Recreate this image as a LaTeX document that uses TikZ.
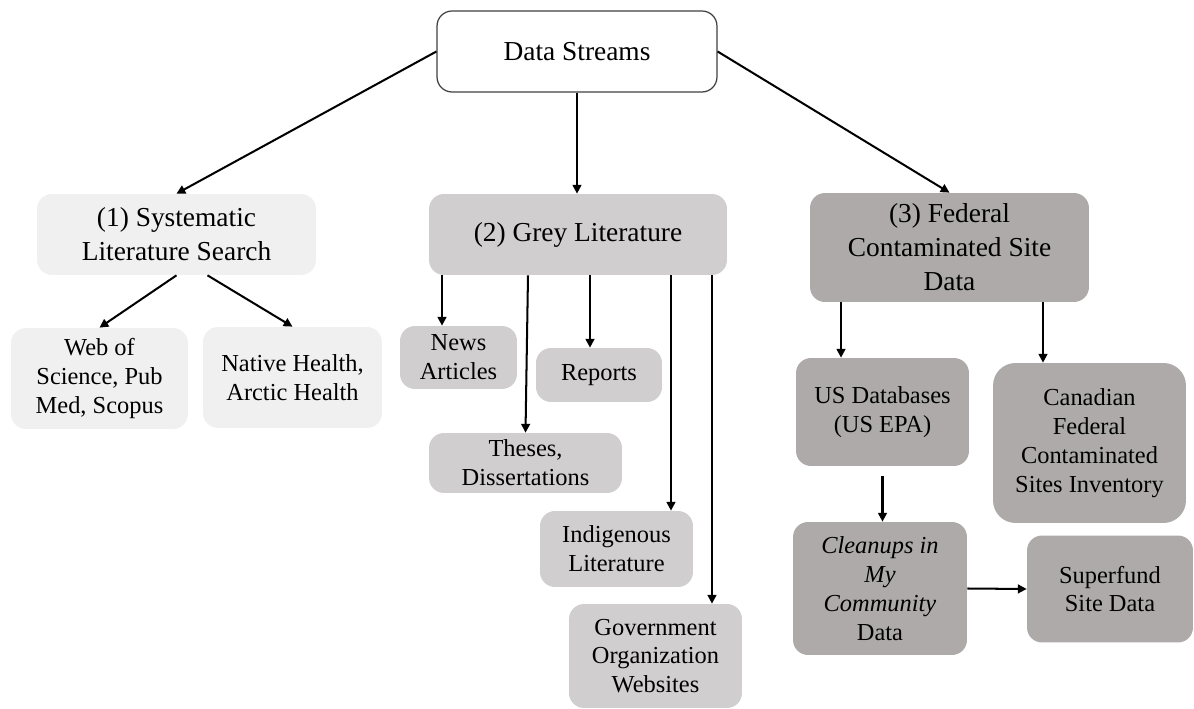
\documentclass[tikz,border=0pt]{standalone}
\usepackage{fontspec}
\setmainfont{Liberation Serif}
\newfontfamily\timesfont{Liberation Serif}
\usepackage{tikz}
\usetikzlibrary{arrows.meta, positioning}
\definecolor{boxlight}{HTML}{F0F0F0}
\definecolor{boxmid}{HTML}{D0CECE}
\definecolor{boxdark}{HTML}{AEAAAA}
\definecolor{rimgrey}{HTML}{404040}
\tikzset{
	stream/.style={rounded corners=0.3cm, inner sep=0pt, align=center},
	bigtext/.style={font=\timesfont\fontsize{15.6}{19.3}\selectfont},
	smalltext/.style={font=\timesfont\fontsize{13.9}{16.4}\selectfont},
	lightbox/.style={stream, fill=boxlight},
	midbox/.style={stream, fill=boxmid},
	darkbox/.style={stream, fill=boxdark},
	arr/.style={-{Triangle[length=5pt,width=5pt]}, line width=1.15pt},
}

\begin{document}
\begin{tikzpicture}[x=0.02cm, y=-0.02cm]
			\useasboundingbox (0,0) rectangle (1194,709);
			% top
			\node[stream, bigtext, draw=rimgrey, line width=0.7pt, fill=white, minimum width=5.6cm, minimum height=1.62cm] (ds) at (577,51.5) {Data Streams};
			% the three streams
			\node[lightbox, bigtext, minimum width=5.58cm, minimum height=1.62cm] (sys) at (176.5,234.5) {(1) Systematic\\Literature Search};
			\node[midbox, bigtext, minimum width=5.96cm, minimum height=1.62cm] (grey) at (578,234.5) {(2) Grey Literature};
			\node[darkbox, bigtext, minimum width=5.58cm, minimum height=2.18cm] (fed) at (949.5,247.5) {(3) Federal\\Contaminated Site\\Data};
			% (1)
			\node[lightbox, smalltext, minimum width=3.54cm, minimum height=2.02cm] (web) at (99.5,378.5) {Web of\\Science, Pub\\Med, Scopus};
			\node[lightbox, smalltext, minimum width=3.58cm, minimum height=2.02cm] (nat) at (292.5,377.5) {Native Health,\\Arctic Health};
			% (2)
			\node[midbox, smalltext, minimum width=2.34cm, minimum height=1.26cm] (news) at (458.5,357.5) {News\\Articles};
			\node[midbox, smalltext, minimum width=2.52cm, minimum height=1.08cm] (rep) at (599,375) {Reports};
			\node[midbox, smalltext, minimum width=3.86cm, minimum height=1.2cm] (the) at (525.5,463) {Theses,\\Dissertations};
			\node[midbox, smalltext, minimum width=3.06cm, minimum height=1.52cm] (ind) at (616.5,549) {Indigenous\\Literature};
			\node[midbox, smalltext, minimum width=3.46cm, minimum height=2.08cm] (gov) at (655.5,656) {Government\\Organization\\Websites};
			% (3)
			\node[darkbox, smalltext, minimum width=3.46cm, minimum height=2.16cm] (us) at (882.5,412) {US Databases\\(US EPA)};
			\node[darkbox, smalltext, rounded corners=0.45cm, minimum width=3.86cm, minimum height=3.2cm] (can) at (1089.5,443) {Canadian\\Federal\\Contaminated\\Sites Inventory};
			\node[darkbox, smalltext, minimum width=3.48cm, minimum height=2.66cm] (clean) at (880,588.5) {\textit{Cleanups in}\\\textit{My}\\\textit{Community}\\Data};
			\node[darkbox, smalltext, minimum width=3.32cm, minimum height=2.14cm] (sup) at (1110,589) {Superfund\\Site Data};
			% connectors
			\draw[arr] (ds.west) -- (sys.north);
			\draw[arr] (ds.south) -- (ds.south |- grey.north);
			\draw[arr] (ds.east) -- (fed.north);
			\draw[arr] (sys.south) -- (web.north);
			\draw[arr] ([xshift=0.62cm]sys.south) -- (nat.north);
			\draw[arr] ([xshift=-0.33cm]news.north |- grey.south) -- ([xshift=-0.33cm]news.north);
			\draw[arr] ([xshift=0.05cm]the.north |- grey.south) -- (the.north);
			\draw[arr] ([xshift=-0.18cm]rep.north |- grey.south) -- ([xshift=-0.18cm]rep.north);
			\draw[arr] ([xshift=1.09cm]ind.north |- grey.south) -- ([xshift=1.09cm]ind.north);
			\draw[arr] ([xshift=1.13cm]gov.north |- grey.south) -- ([xshift=1.13cm]gov.north);
			\draw[arr] ([xshift=-0.83cm]us.north |- fed.south) -- ([xshift=-0.83cm]us.north);
			\draw[arr] ([xshift=-0.93cm]can.north |- fed.south) -- ([xshift=-0.93cm]can.north);
			\draw[arr, shorten <=0.2cm] (us.south) -- (us.south |- clean.north);
			\draw[arr] (clean.east) -- (sup.west);
		\end{tikzpicture}
\end{document}
